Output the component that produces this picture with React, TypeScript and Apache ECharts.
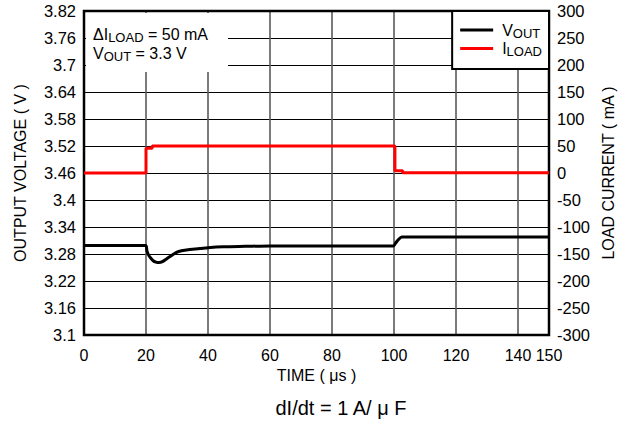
import React, { useEffect, useRef } from "react";
import * as echarts from "echarts";

const FONT = "'Liberation Sans', Arial, Helvetica, sans-serif";

// Output voltage trace (time in µs, volts)
const vTime = [0, 5, 10, 15, 19.9, 20.3, 20.8, 21.5, 22.3, 23.2, 24.2, 25.3, 26.8, 28.5, 30.3, 33, 37.4, 40, 45, 52, 60, 70, 85, 99.8, 100.6, 101.4, 102.5, 105, 115, 130, 150];
const vOut = [3.299, 3.299, 3.299, 3.299, 3.299, 3.287, 3.278, 3.271, 3.265, 3.262, 3.261, 3.263, 3.270, 3.278, 3.285, 3.289, 3.292, 3.294, 3.296, 3.297, 3.298, 3.298, 3.298, 3.298, 3.305, 3.312, 3.318, 3.318, 3.318, 3.318, 3.318];

// Load current trace (time in µs, mA)
const iTime = [0, 20, 20, 22, 22, 100.3, 100.3, 102.8, 102.8, 150];
const iLoad = [0, 0, 46, 46, 50, 50, 4, 4, 0.5, 0.5];

// Tick labels
const vTicks = [3.1, 3.16, 3.22, 3.28, 3.34, 3.4, 3.46, 3.52, 3.58, 3.64, 3.7, 3.76, 3.82];

export default function App() {
  const ref = useRef<HTMLDivElement>(null);
  useEffect(() => {
    if (!ref.current) return;
    const chart = echarts.init(ref.current, null, { renderer: "svg" });
    const sub = { fontSize: 13, fontFamily: FONT, color: "#000", padding: [6, 0, 0, 0] };
    const main = { fontSize: 16, fontFamily: FONT, color: "#000" };
    chart.setOption({
      animation: false,
      backgroundColor: "#fff",
      textStyle: { fontFamily: FONT },
      grid: {
        left: 84, right: 79, top: 11, bottom: 89,
        show: true, borderColor: "#000", borderWidth: 2.5, z: 3,
      },
      legend: {
        right: 79, top: 11,
        orient: "vertical",
        icon: "rect",
        backgroundColor: "#fff",
        borderColor: "#000",
        borderWidth: 2,
        borderRadius: 0,
        padding: [11, 7, 11, 8],
        itemGap: 1,
        itemWidth: 33,
        itemHeight: 3,
        z: 10,
        data: ["VOUT", "ILOAD"],
        formatter: (name: string) =>
          name === "VOUT" ? "{m|V}{s|OUT}" : "{m|I}{s|LOAD}",
        textStyle: {
          padding: [0, 0, 0, 4],
          rich: {
            m: { fontSize: 16, fontFamily: FONT, color: "#000" },
            s: { fontSize: 13, fontFamily: FONT, color: "#000", padding: [6, 0, 0, 0] },
          },
        },
      },
      xAxis: {
        type: "value",
        min: 0, max: 150, interval: 20,
        name: "TIME ( μs )",
        nameLocation: "middle",
        nameGap: 27,
        nameTextStyle: { fontSize: 16, color: "#000", fontFamily: FONT },
        axisLine: { show: false },
        axisTick: { show: false },
        axisLabel: { fontSize: 16, color: "#000", margin: 12, fontFamily: FONT },
        splitLine: { show: true, lineStyle: { color: "#5a5a5a", width: 1.6 } },
      },
      yAxis: [
        {
          type: "value",
          min: 3.1, max: 3.82,
          position: "left",
          name: "OUTPUT VOLTAGE ( V )",
          nameLocation: "middle",
          nameGap: 56,
          nameTextStyle: { fontSize: 16, color: "#000", fontFamily: FONT },
          axisLine: { show: false },
          axisTick: { show: false, customValues: vTicks },
          axisLabel: {
            customValues: vTicks,
            fontSize: 16.5, color: "#000", margin: 8, fontFamily: FONT,
            formatter: (v: number) => String(parseFloat(v.toFixed(2))),
          },
          splitLine: { show: false },
        },
        {
          type: "value",
          min: -300, max: 300, interval: 50,
          position: "right",
          name: "LOAD CURRENT ( mA )",
          nameLocation: "middle",
          nameGap: 47,
          nameTextStyle: { fontSize: 16, color: "#000", fontFamily: FONT },
          axisLine: { show: false },
          axisTick: { show: false },
          axisLabel: { fontSize: 16.5, color: "#000", margin: 8, fontFamily: FONT },
          splitLine: { show: true, lineStyle: { color: "#000", width: 1 } },
        },
      ],
      series: [
        {
          name: "VOUT",
          type: "line",
          yAxisIndex: 0,
          showSymbol: false,
          symbol: "none",
          smooth: 0.3,
          lineStyle: { color: "#000", width: 3 },
          itemStyle: { color: "#000" },
          data: vTime.map((t, i) => [t, vOut[i]]),
          z: 5,
        },
        {
          name: "ILOAD",
          type: "line",
          yAxisIndex: 1,
          showSymbol: false,
          symbol: "none",
          lineStyle: { color: "#ff0000", width: 3 },
          itemStyle: { color: "#ff0000" },
          data: iTime.map((t, i) => [t, iLoad[i]]),
          z: 5,
        },
      ],
      graphic: [
        {
          type: "rect",
          z: 100,
          shape: { x: 86, y: 13, width: 142, height: 59 },
          style: { fill: "#fff" },
        },
        {
          type: "text",
          z: 101,
          x: 93, y: 34,
          style: {
            text: "{m|ΔI}{s|LOAD}{m| = 50 mA}",
            verticalAlign: "middle",
            rich: { m: main, s: sub },
          },
        },
        {
          type: "text",
          z: 101,
          x: 93, y: 53,
          style: {
            text: "{m|V}{s|OUT}{m| = 3.3 V}",
            verticalAlign: "middle",
            rich: { m: main, s: sub },
          },
        },
        {
          type: "text",
          z: 101,
          x: 341, y: 408,
          style: {
            text: "dI/dt = 1 A/ μ F",
            font: `20px ${FONT}`,
            fill: "#000",
            align: "center",
            verticalAlign: "middle",
          },
        },
      ],
    });
    return () => chart.dispose();
  }, []);
  return (
    <div
      ref={ref}
      style={{ position: "absolute", left: 0, top: 0, width: 628, height: 424 }}
    />
  );
}
